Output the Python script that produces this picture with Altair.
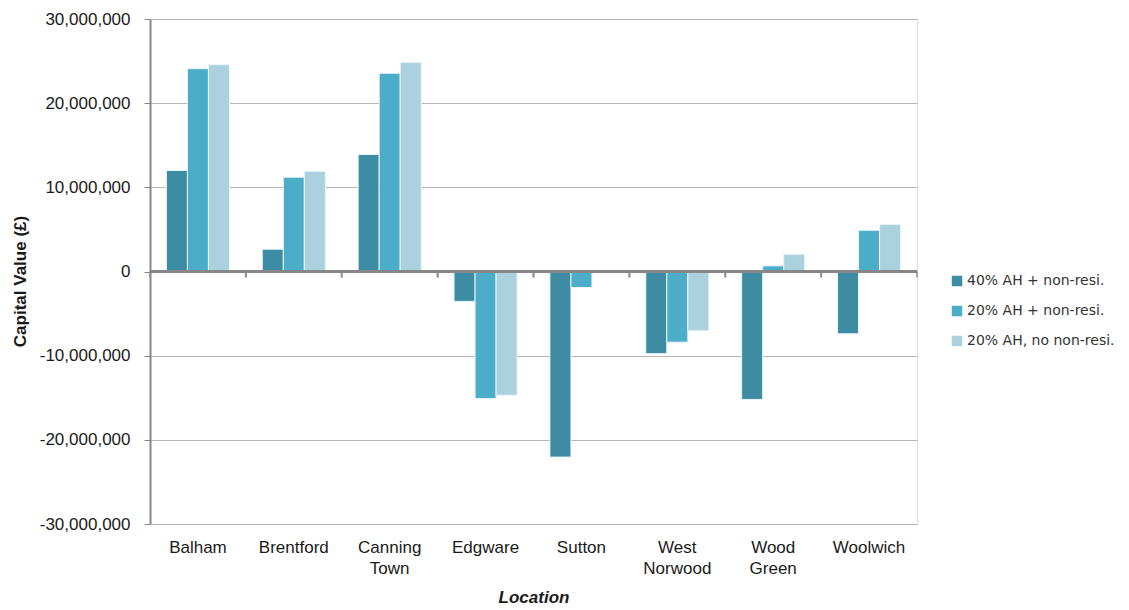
import altair as alt
import pandas as pd

locations = ["Balham", "Brentford", "Canning Town", "Edgware", "Sutton",
             "West Norwood", "Wood Green", "Woolwich"]
series = ["40% AH + non-resi.", "20% AH + non-resi.", "20% AH, no non-resi."]
colors = ["#3d8ca3", "#4badc7", "#abd0de"]

ah40_nonresi = [12.0e6, 2.65e6, 13.9e6, -3.55e6, -22.05e6, -9.76e6, -15.2e6, -7.4e6]
ah20_nonresi = [24.1e6, 11.2e6, 23.55e6, -15.1e6, -1.9e6, -8.4e6, 0.67e6, 4.9e6]
ah20_no_nonresi = [24.57e6, 11.9e6, 24.85e6, -14.7e6, -0.1e6, -7.05e6, 2.05e6, 5.6e6]

y_ticks = [-30e6, -20e6, -10e6, 0, 10e6, 20e6, 30e6]

rows = []
for i, loc in enumerate(locations):
    for s, vals in zip(series, [ah40_nonresi, ah20_nonresi, ah20_no_nonresi]):
        rows.append({"Location": loc, "Series": s, "Value": vals[i]})
df = pd.DataFrame(rows)
cats = pd.DataFrame({"Location": locations})

W, H = 767, 505

x_enc = alt.X("Location:N", sort=locations,
              scale=alt.Scale(paddingInner=0, paddingOuter=0),
              axis=alt.Axis(title="Location", labelAngle=0, ticks=False, domain=False,
                            labelExpr="split(datum.label, ' ')",
                            labelFont="Liberation Sans", labelFontSize=17,
                            labelColor="#1a1a1a", labelPadding=15, labelLineHeight=21,
                            titleFont="Liberation Sans", titleFontSize=17,
                            titleFontStyle="italic", titleFontWeight="bold",
                            titleColor="#1a1a1a", titlePadding=13))

bars = alt.Chart(df).mark_bar(stroke="#eaf5f9", strokeWidth=1).encode(
    x=x_enc,
    xOffset=alt.XOffset("Series:N", sort=series,
                        scale=alt.Scale(paddingInner=0, paddingOuter=0.78)),
    y=alt.Y("Value:Q",
            scale=alt.Scale(domain=[-30e6, 30e6], nice=False),
            axis=alt.Axis(title="Capital Value (£)", values=y_ticks, format=",.0f",
                          labelExpr="replace(datum.label, '\u2212', '-')",
                          labelFont="Liberation Sans", labelFontSize=17,
                          labelColor="#1a1a1a", labelPadding=14,
                          tickColor="#878787", tickSize=6, tickWidth=1,
                          domainColor="#878787", domainWidth=2,
                          gridColor="#b5b5b5", gridWidth=1,
                          titleFont="Liberation Sans", titleFontSize=17,
                          titleFontWeight="bold", titleColor="#1a1a1a",
                          titleX=-130, titleY=262, titleBaseline="middle")),
    color=alt.Color("Series:N", sort=series,
                    scale=alt.Scale(domain=series, range=colors),
                    legend=alt.Legend(title=None, orient="none", legendX=800,
                                      legendY=255, symbolType="square",
                                      symbolSize=110, symbolStrokeWidth=0,
                                      labelFont="DejaVu Sans", labelFontSize=14,
                                      labelColor="#333333", rowPadding=16,
                                      labelOffset=3)),
)

zero = alt.Chart(cats).mark_rule(color="#878787", strokeWidth=2.5).encode(
    y=alt.datum(0)
)

ticks_l = alt.Chart(cats).mark_tick(color="#878787", thickness=2, size=6,
                                    orient="vertical", yOffset=3).encode(
    x=alt.X("Location:N", sort=locations, bandPosition=0),
    y=alt.datum(0)
)
ticks_r = alt.Chart(cats).mark_tick(color="#878787", thickness=2, size=6,
                                    orient="vertical", yOffset=3).encode(
    x=alt.X("Location:N", sort=locations, bandPosition=1),
    y=alt.datum(0)
)

chart = alt.layer(bars, zero, ticks_l, ticks_r).properties(
    width=W, height=H,
    padding={"left": 150, "top": 19, "right": 212, "bottom": 86},
    autosize=alt.AutoSizeParams(type="none"),
).configure_view(stroke=None).configure(background="white")

chart.save("out.html", embed_options={"renderer": "svg", "actions": False})
